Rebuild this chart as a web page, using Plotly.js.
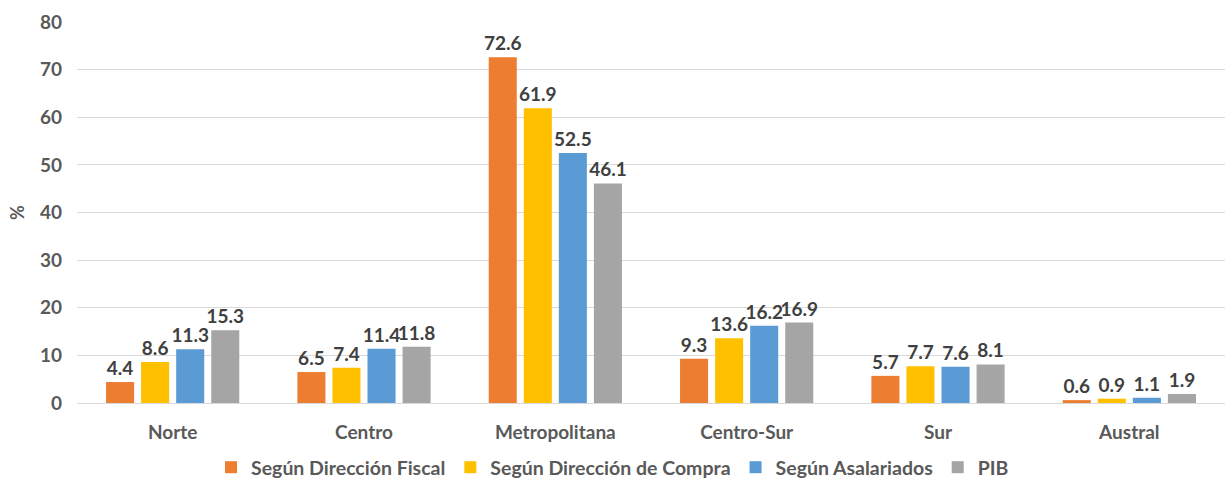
<!DOCTYPE html>
<html><head><meta charset="utf-8">
<script src="https://cdn.plot.ly/plotly-3.0.1.min.js"></script>
<style>html,body{margin:0;padding:0;background:#fff}#c{width:1225px;height:481px}</style>
</head><body><div id="c"></div>
<script>
const categories = ["Norte","Centro","Metropolitana","Centro-Sur","Sur","Austral"];
const seriesNames = ["Según Dirección Fiscal","Según Dirección de Compra","Según Asalariados","PIB"];
const fiscal = [4.4, 6.5, 72.6, 9.3, 5.7, 0.6];
const compra = [8.6, 7.4, 61.9, 13.6, 7.7, 0.9];
const asalariados = [11.3, 11.4, 52.5, 16.2, 7.6, 1.1];
const pib = [15.3, 11.8, 46.1, 16.9, 8.1, 1.9];
const colors = ["#ED7D31","#FFC000","#5B9BD5","#A5A5A5"];
const allValues = [fiscal, compra, asalariados, pib];
const font = "Lato, 'Open Sans', sans-serif";
const traces = allValues.map((v,i)=>({
  type:"bar", name:seriesNames[i], x:categories, y:v,
  marker:{color:colors[i]},
  text:v.map(n=>n.toFixed(1)), textposition:"outside", cliponaxis:false, constraintext:"none",
  textfont:{family:font, size:19, color:"#404040", weight:"bold"},
  hoverinfo:"none"
}));
Plotly.newPlot("c", traces, {
  width:1225, height:481,
  margin:{l:77, r:0, t:22, b:78, autoexpand:false},
  barmode:"group", bargap:0.267, bargroupgap:0.2,
  font:{family:font, color:"#595959"},
  showlegend:true,
  legend:{orientation:"h", x:0.5, xanchor:"center", xref:"container", yref:"container", y:0.028, yanchor:"middle",
    font:{family:font, size:19.5, color:"#595959", weight:"bold"}, itemwidth:30, traceorder:"normal"},
  xaxis:{tickfont:{family:font, size:19, color:"#595959", weight:"bold"}, showline:false, ticks:"", showgrid:false, ticklabelstandoff:16},
  yaxis:{range:[0,80], dtick:10, gridcolor:"#D9D9D9", gridwidth:1, zeroline:true, zerolinecolor:"#D9D9D9",
    tickfont:{family:font, size:19, color:"#595959", weight:"bold"}, ticks:"", ticklabelstandoff:14,
    title:{text:"%", font:{family:font, size:18, color:"#595959", weight:"bold"}, standoff:10}},
  plot_bgcolor:"#fff", paper_bgcolor:"#fff"
}, {staticPlot:true});
</script></body></html>
